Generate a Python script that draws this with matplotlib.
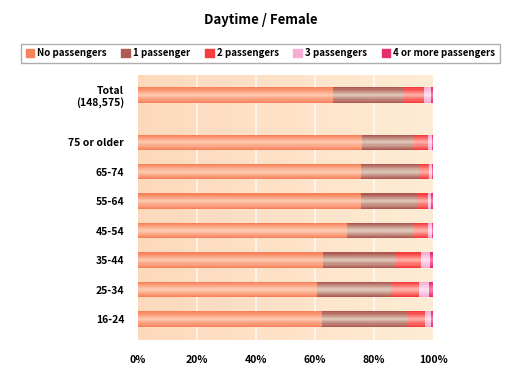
import matplotlib
matplotlib.use("Agg")
import matplotlib.pyplot as plt
import matplotlib.patches as mpatches
import numpy as np
from matplotlib.colors import to_rgb

title = "Daytime / Female"
groups = ["16-24", "25-34", "35-44", "45-54", "55-64", "65-74", "75 or older", "Total\n(148,575)"]
series = ["No passengers", "1 passenger", "2 passengers", "3 passengers", "4 or more passengers"]

# cumulative shares (%), bottom row first
cum_none = [62.4, 60.7, 62.7, 70.8, 75.6, 75.6, 76.0, 66.2]
cum_one = [91.1, 85.8, 87.3, 93.7, 94.6, 95.4, 93.6, 90.2]
cum_two = [97.3, 95.3, 95.9, 98.2, 98.3, 98.8, 98.4, 96.9]
cum_three = [99.3, 98.8, 99.0, 99.5, 99.4, 99.6, 99.5, 99.3]
cum_four = [100.0] * 8

ypos = [0, 1, 2, 3, 4, 5, 6, 7.6]
xticks = [0, 20, 40, 60, 80, 100]

edge_cols = ["#f7825c", "#ad5a52", "#f63c3c", "#f6aed6", "#e42e6e"]
mid_cols = ["#fdc6ab", "#dcc3b3", "#ffaaa2", "#ffdcee", "#f87aa8"]

plt.rcParams["font.family"] = ["Noto Sans CJK JP", "DejaVu Sans"]
plt.rcParams["font.weight"] = "bold"

fig = plt.figure(figsize=(5.21, 3.81), dpi=100)
ax = fig.add_axes([138 / 521, 41 / 381, 295 / 521, 265 / 381])

ax.set_xlim(0, 100)
ax.set_ylim(-0.71, 8.28)

# background gradient
grad = np.linspace(0, 1, 256)[None, :]
c0 = np.array(to_rgb("#fdd9bc"))
c1 = np.array(to_rgb("#ffecd5"))
img = c0[None, None, :] * (1 - grad[..., None]) + c1[None, None, :] * grad[..., None]
ax.imshow(img, extent=[0, 100, -0.71, 8.28], aspect="auto", zorder=0)
for x in xticks[1:-1]:
    ax.axvline(x, color="white", lw=1.2, alpha=0.8, zorder=1)

cums = [cum_none, cum_one, cum_two, cum_three, cum_four]
lefts = [0.0] * len(groups)
h = 0.52
n_layers = 7
for i, cum in enumerate(cums):
    widths = [c - l for c, l in zip(cum, lefts)]
    e = np.array(to_rgb(edge_cols[i]))
    m = np.array(to_rgb(mid_cols[i]))
    for k in range(n_layers):
        t = k / (n_layers - 1)
        col = e * (1 - t) + m * t
        ax.barh(ypos, widths, left=lefts, height=h * (1 - 0.85 * t),
                color=col, lw=0, zorder=2 + k * 0.01)
    lefts = cum

ax.set_yticks(ypos)
ax.set_yticklabels(groups, fontsize=7.5, fontweight="bold", linespacing=1.2)
ax.set_xticks(xticks)
ax.set_xticklabels([f"{x}%" for x in xticks], fontsize=7.5, fontweight="bold")
ax.tick_params(length=0)
ax.tick_params(axis="y", pad=10)
ax.tick_params(axis="x", pad=11)
for s in ax.spines.values():
    s.set_visible(False)

handles = [mpatches.Patch(color=edge_cols[i], label=series[i]) for i in range(len(series))]
fig.legend(handles=handles, loc="center", bbox_to_anchor=(260.5 / 521, 1 - 53.5 / 381),
           ncol=5, fontsize=7, frameon=True, fancybox=False, edgecolor="#999999",
           handlelength=0.9, handleheight=0.9, handletextpad=0.3, columnspacing=1.5,
           borderpad=0.5, borderaxespad=0)

fig.text(260.5 / 521, 1 - 20 / 381, title, ha="center", va="center",
         fontsize=9.5, fontweight="bold")

fig.savefig("out.png", dpi=100)
